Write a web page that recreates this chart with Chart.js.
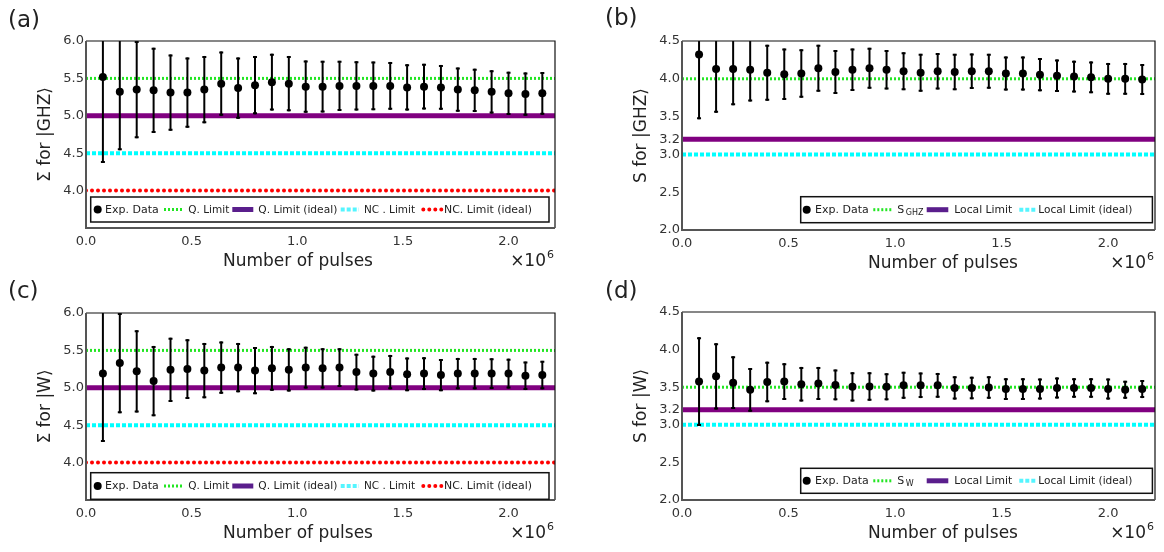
<!DOCTYPE html>
<html>
<head>
<meta charset="utf-8">
<script src="https://cdn.jsdelivr.net/npm/chart.js@4.4.0/dist/chart.umd.min.js"></script>
<style>
  body { margin: 0; background: #fff; width: 1164px; height: 552px; overflow: hidden; position: relative; font-family: "DejaVu Sans", sans-serif; }
  .panel { position: absolute; width: 582px; height: 276px; }
  .tag { position: absolute; font-size: 23px; line-height: 23px; color: #222; }
</style>
</head>
<body>
<div class="panel" style="left:0;top:0"><canvas id="chartA" width="582" height="276"></canvas></div>
<div class="panel" style="left:582px;top:0"><canvas id="chartB" width="582" height="276"></canvas></div>
<div class="panel" style="left:0;top:276px"><canvas id="chartC" width="582" height="276"></canvas></div>
<div class="panel" style="left:582px;top:276px"><canvas id="chartD" width="582" height="276"></canvas></div>
<div class="tag" style="left:8px;top:8px">(a)</div>
<div class="tag" style="left:605px;top:6px">(b)</div>
<div class="tag" style="left:8px;top:279px">(c)</div>
<div class="tag" style="left:605px;top:279px">(d)</div>
<script>
// Número de pulsos (eje x)
const pulses = [80000, 160000, 240000, 320000, 400000, 480000, 560000, 640000, 720000, 800000,
  880000, 960000, 1040000, 1120000, 1200000, 1280000, 1360000, 1440000, 1520000, 1600000,
  1680000, 1760000, 1840000, 1920000, 2000000, 2080000, 2160000, 2240000];
const xTicks = [0, 500000, 1000000, 1500000, 2000000];
const xMax = 2220000;

// (a) Sigma para |GHZ>
const ghzSigma = [5.52, 5.32, 5.35, 5.34, 5.31, 5.31, 5.35, 5.43, 5.37, 5.41, 5.45, 5.43, 5.39, 5.39,
  5.40, 5.40, 5.40, 5.40, 5.38, 5.39, 5.38, 5.35, 5.34, 5.32, 5.30, 5.29, 5.30];
const ghzSigmaErr = [1.15, 0.78, 0.65, 0.57, 0.51, 0.47, 0.45, 0.43, 0.41, 0.39, 0.38, 0.37, 0.35, 0.345,
  0.335, 0.33, 0.325, 0.32, 0.31, 0.305, 0.30, 0.295, 0.29, 0.29, 0.29, 0.29, 0.285];

// (b) S para |GHZ>
const ghzS = [4.32, 4.13, 4.13, 4.12, 4.08, 4.06, 4.07, 4.14, 4.09, 4.12, 4.14, 4.12, 4.10, 4.08,
  4.10, 4.09, 4.10, 4.10, 4.07, 4.07, 4.055, 4.04, 4.03, 4.02, 4.00, 4.00, 3.99];
const ghzSErr = [0.855, 0.58, 0.48, 0.42, 0.37, 0.34, 0.32, 0.31, 0.29, 0.28, 0.27, 0.26, 0.25, 0.25,
  0.24, 0.24, 0.235, 0.23, 0.225, 0.225, 0.22, 0.215, 0.21, 0.21, 0.21, 0.21, 0.205];

// (c) Sigma para |W>
const wSigma = [5.19, 5.33, 5.22, 5.09, 5.24, 5.25, 5.23, 5.27, 5.27, 5.23, 5.26, 5.24, 5.27, 5.26,
  5.27, 5.21, 5.19, 5.21, 5.18, 5.19, 5.17, 5.19, 5.19, 5.19, 5.19, 5.16, 5.17, 5.17];
const wSigmaErr = [0.915, 0.67, 0.55, 0.47, 0.43, 0.40, 0.37, 0.35, 0.33, 0.315, 0.30, 0.29, 0.28, 0.27,
  0.26, 0.245, 0.24, 0.23, 0.225, 0.22, 0.215, 0.21, 0.21, 0.205, 0.20, 0.19, 0.19, 0.19];

// (d) S para |W>
const wS = [3.575, 3.645, 3.56, 3.465, 3.57, 3.575, 3.54, 3.55, 3.53, 3.505, 3.51, 3.505, 3.525, 3.525,
  3.525, 3.49, 3.49, 3.495, 3.475, 3.475, 3.475, 3.49, 3.49, 3.49, 3.475, 3.465, 3.475];
const wSErr = [0.59, 0.44, 0.35, 0.29, 0.27, 0.245, 0.23, 0.22, 0.205, 0.195, 0.19, 0.18, 0.18, 0.17,
  0.165, 0.155, 0.15, 0.15, 0.145, 0.145, 0.14, 0.14, 0.13, 0.13, 0.14, 0.12, 0.12];

// Límites (líneas horizontales)
const sigmaLimits = [5.5, 5.0, 4.5, 4.0];
const ghzSLimits = [4.0, 3.2, 3.0];
const wSLimits = [3.5, 3.2, 3.0];

// Ticks del eje y
const sigmaTicks = [4.0, 4.5, 5.0, 5.5, 6.0];
const sTicks = [2.0, 2.5, 3.0, 3.2, 3.5, 4.0, 4.5];

// Textos de leyenda
const sigmaLegend = ['Exp. Data', 'Q. Limit', 'Q. Limit (ideal)', 'NC . Limit', 'NC. Limit (ideal)'];
const ghzSLegend = ['Exp. Data', 'S_GHZ', 'Local Limit', 'Local Limit (ideal)'];
const wSLegend = ['Exp. Data', 'S_W', 'Local Limit', 'Local Limit (ideal)'];

const FONT = '"DejaVu Sans", sans-serif';
const W = 582, H = 276;

const lineStyles = {
  green: { borderColor: '#22e622', borderWidth: 3, borderDash: [2, 2] },
  purple: { borderColor: '#800080', borderWidth: 5, borderDash: [] },
  cyan: { borderColor: '#00ffff', borderWidth: 4, borderDash: [4, 2] },
  red: { borderColor: '#ff0000', borderWidth: 4, borderDash: [0, 6], borderCapStyle: 'round' }
};
const legendSample = { green: '#22e622', purple: '#5a1e8c', cyan: '#55f5ff', red: '#ff0000' };

// Posiciones de la leyenda (relativas al borde izquierdo del recuadro)
const sigmaLegendLayout = [
  { dot: 7, textAt: 14.3, w: 54 },
  { kind: 'green', from: 73.3, to: 91.3, textAt: 97.6, w: 41 },
  { kind: 'purple', from: 141.6, to: 162.6, textAt: 167.6, w: 79 },
  { kind: 'cyan', from: 250, to: 268.3, textAt: 273.3, w: 51 },
  { kind: 'red', from: 332.6, to: 351, textAt: 353.3, w: 88 }
];
const sLegendLayout = [
  { dot: 6, textAt: 14.3, w: 54 },
  { kind: 'green', from: 72.6, to: 91.3, textAt: 96.6, w: 26 },
  { kind: 'purple', from: 126, to: 147.6, textAt: 153.6, w: 58 },
  { kind: 'cyan', from: 218.6, to: 236, textAt: 237.6, w: 94 }
];

// Barras de error dibujadas con las escalas del gráfico
const errorBars = {
  id: 'errorBars',
  afterDatasetsDraw(chart) {
    const { ctx, chartArea: a, scales: { x, y } } = chart;
    ctx.save();
    ctx.beginPath();
    ctx.rect(a.left, a.top, a.right - a.left, a.bottom - a.top);
    ctx.clip();
    ctx.strokeStyle = '#000';
    chart.data.datasets.forEach(ds => {
      if (!ds.errors) return;
      ds.data.forEach((p, i) => {
        const px = x.getPixelForValue(p.x);
        const hi = y.getPixelForValue(p.y + ds.errors[i]);
        const lo = y.getPixelForValue(p.y - ds.errors[i]);
        ctx.lineWidth = 2;
        ctx.beginPath();
        ctx.moveTo(px, hi); ctx.lineTo(px, lo);
        ctx.stroke();
        ctx.beginPath();
        ctx.moveTo(px - 2, hi + 1); ctx.lineTo(px + 2, hi + 1);
        ctx.moveTo(px - 2, lo - 1); ctx.lineTo(px + 2, lo - 1);
        ctx.stroke();
      });
    });
    ctx.restore();
  }
};

// Marco, títulos del eje x y leyenda en recuadro
const decor = {
  id: 'decor',
  afterDraw(chart, args, o) {
    const { ctx, chartArea: a } = chart;
    ctx.save();
    // marco
    ctx.strokeStyle = '#111';
    ctx.lineWidth = 1.2;
    ctx.beginPath();
    ctx.moveTo(a.left, a.top); ctx.lineTo(a.right, a.top); ctx.lineTo(a.right, a.bottom);
    ctx.stroke();
    ctx.strokeStyle = '#555';
    ctx.lineWidth = 2;
    ctx.beginPath();
    ctx.moveTo(a.left, a.top); ctx.lineTo(a.left, a.bottom); ctx.lineTo(a.right, a.bottom);
    ctx.stroke();

    // título eje x y factor de escala
    ctx.fillStyle = '#222';
    ctx.textBaseline = 'middle';
    ctx.textAlign = 'center';
    ctx.font = '17px ' + FONT;
    ctx.fillText('Number of pulses', a.left + o.xTitleAt, a.bottom + 34);
    ctx.textAlign = 'right';
    ctx.font = '11px ' + FONT;
    const sup = ctx.measureText('6').width;
    ctx.fillText('6', a.right - 1, a.bottom + 27);
    ctx.font = '17px ' + FONT;
    ctx.fillText('\u00d710', a.right - 2 - sup, a.bottom + 34);

    // leyenda
    const L = o.legend;
    const bx = a.left + L.dx, by = a.bottom - L.above;
    const bw = a.right - L.right - bx, bh = L.above - L.below;
    ctx.fillStyle = '#fff';
    ctx.fillRect(bx, by, bw, bh);
    ctx.strokeStyle = '#111';
    ctx.lineWidth = 1.5;
    ctx.strokeRect(bx, by, bw, bh);
    const cy = by + bh / 2;
    L.layout.forEach((it, i) => {
      if (it.dot !== undefined) {
        ctx.fillStyle = '#000';
        ctx.beginPath();
        ctx.arc(bx + it.dot, cy, 4, 0, Math.PI * 2);
        ctx.fill();
      } else {
        const st = lineStyles[it.kind];
        ctx.strokeStyle = legendSample[it.kind];
        ctx.lineWidth = st.borderWidth;
        ctx.setLineDash(st.borderDash);
        ctx.lineCap = st.borderCapStyle || 'butt';
        ctx.beginPath();
        ctx.moveTo(bx + it.from, cy); ctx.lineTo(bx + it.to, cy);
        ctx.stroke();
        ctx.setLineDash([]);
        ctx.lineCap = 'butt';
      }
      const label = L.labels[i];
      ctx.fillStyle = '#222';
      ctx.textAlign = 'left';
      ctx.textBaseline = 'middle';
      if (label.includes('_')) {
        const [main, sub] = label.split('_');
        ctx.font = '11px ' + FONT;
        ctx.fillText(main, bx + it.textAt, cy);
        const mw = ctx.measureText(main).width;
        ctx.font = '8px ' + FONT;
        ctx.fillText(sub, bx + it.textAt + mw + 1.5, cy + 3.5);
      } else {
        ctx.font = '11px ' + FONT;
        ctx.fillText(label, bx + it.textAt, cy + 0.5, it.w);
      }
    });
    ctx.restore();
  }
};

function buildChart(id, cfg) {
  const datasets = cfg.limits.map((v, i) => Object.assign({
    type: 'line',
    data: [{ x: 0, y: v }, { x: xMax, y: v }],
    pointRadius: 0,
    fill: false,
    order: 2
  }, lineStyles[cfg.styles[i]]));

  datasets.push({
    type: 'scatter',
    data: cfg.values.map((v, i) => ({ x: pulses[i], y: v })),
    errors: cfg.errors,
    pointRadius: 4,
    pointBorderWidth: 0,
    backgroundColor: '#000',
    borderColor: '#000',
    order: 1
  });

  const area = cfg.area;
  return new Chart(document.getElementById(id), {
    data: { datasets },
    plugins: [errorBars, decor],
    options: {
      responsive: false,
      animation: false,
      devicePixelRatio: 1,
      layout: { padding: { left: 0, top: area.top, right: W - area.right, bottom: 0 } },
      plugins: {
        legend: { display: false },
        tooltip: { enabled: false },
        decor: { xTitleAt: cfg.xTitleAt, legend: cfg.legend }
      },
      scales: {
        x: {
          type: 'linear',
          min: 0,
          max: xMax,
          afterBuildTicks: s => { s.ticks = xTicks.map(v => ({ value: v })); },
          afterFit: s => { s.height = H - area.bottom; },
          grid: { display: false, drawTicks: false },
          border: { display: false },
          ticks: {
            padding: 6, color: '#333', autoSkip: false, maxRotation: 0,
            font: { size: 13, family: FONT },
            callback: v => (v / 1e6).toFixed(1)
          }
        },
        y: {
          type: 'linear',
          min: cfg.yMin,
          max: cfg.yMax,
          afterBuildTicks: s => { s.ticks = cfg.yTicks.map(v => ({ value: v })); },
          afterFit: s => { s.width = area.left; },
          grid: { display: false, drawTicks: false },
          border: { display: false },
          ticks: {
            padding: 2, color: '#333', autoSkip: false,
            font: { size: 13, family: FONT },
            callback: v => v.toFixed(1)
          },
          title: {
            display: true,
            text: cfg.yTitle,
            color: '#222',
            font: { size: 17, family: FONT },
            padding: { top: area.left - 40 - 10.2, bottom: 0 }
          }
        }
      }
    }
  });
}

const sigmaStyles = ['green', 'purple', 'cyan', 'red'];
const sStyles = ['green', 'purple', 'cyan'];

buildChart('chartA', {
  values: ghzSigma, errors: ghzSigmaErr, limits: sigmaLimits, styles: sigmaStyles,
  yMin: 3.5, yMax: 6.0, yTicks: sigmaTicks, yTitle: '\u03a3 for |GHZ\u27e9',
  area: { left: 86, right: 555, top: 41, bottom: 228 }, xTitleAt: 212,
  legend: { dx: 4.7, right: 6, above: 31, below: 6, layout: sigmaLegendLayout, labels: sigmaLegend }
});

buildChart('chartB', {
  values: ghzS, errors: ghzSErr, limits: ghzSLimits, styles: sStyles,
  yMin: 2.0, yMax: 4.5, yTicks: sTicks, yTitle: 'S for |GHZ\u27e9',
  area: { left: 100, right: 573, top: 41, bottom: 230 }, xTitleAt: 261,
  legend: { dx: 118.7, right: 2.6, above: 33.3, below: 7.3, layout: sLegendLayout, labels: ghzSLegend }
});

buildChart('chartC', {
  values: wSigma, errors: wSigmaErr, limits: sigmaLimits, styles: sigmaStyles,
  yMin: 3.5, yMax: 6.0, yTicks: sigmaTicks, yTitle: '\u03a3 for |W\u27e9',
  area: { left: 86, right: 555, top: 37, bottom: 224 }, xTitleAt: 212,
  legend: { dx: 4.7, right: 6, above: 27.3, below: 0.7, layout: sigmaLegendLayout, labels: sigmaLegend }
});

buildChart('chartD', {
  values: wS, errors: wSErr, limits: wSLimits, styles: sStyles,
  yMin: 2.0, yMax: 4.5, yTicks: sTicks, yTitle: 'S for |W\u27e9',
  area: { left: 100, right: 573, top: 36, bottom: 224 }, xTitleAt: 261,
  legend: { dx: 118.7, right: 2.6, above: 31.7, below: 6.7, layout: sLegendLayout, labels: wSLegend }
});
</script>
</body>
</html>
